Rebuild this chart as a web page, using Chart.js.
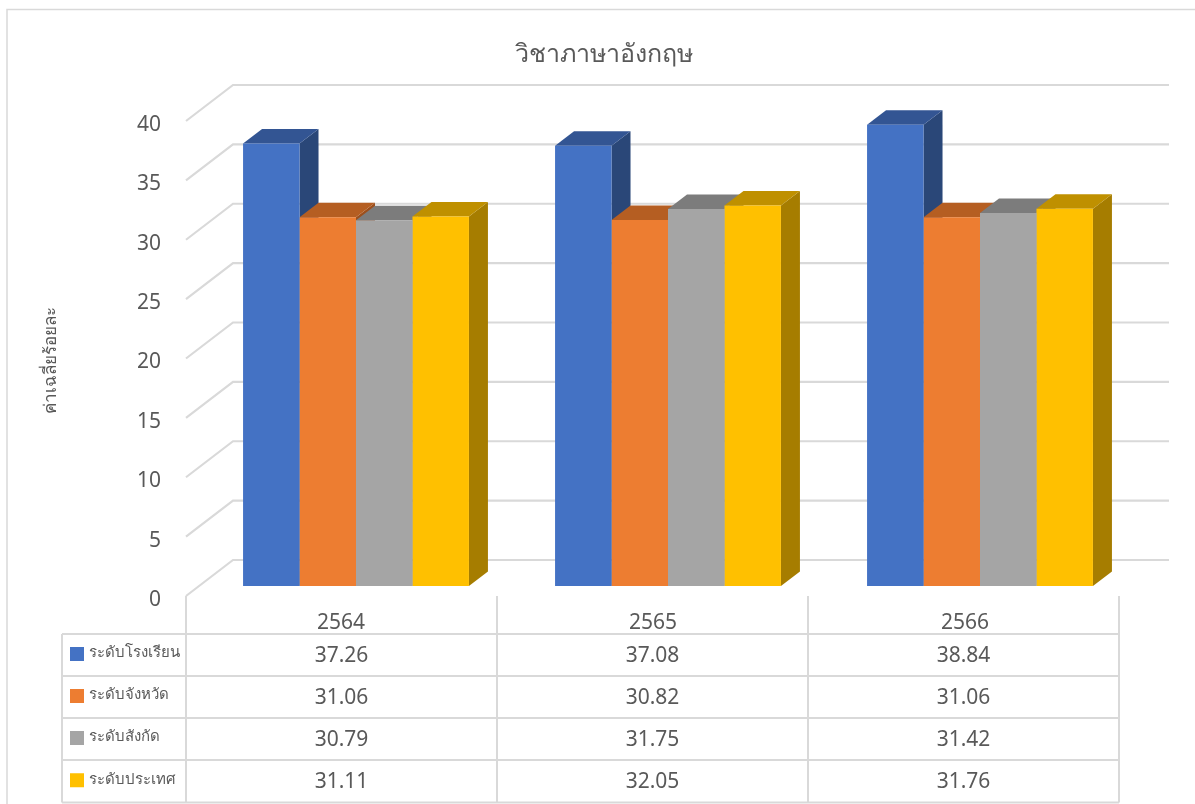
<!DOCTYPE html>
<html>
<head>
<meta charset="utf-8">
<title>วิชาภาษาอังกฤษ</title>
<script src="https://cdn.jsdelivr.net/npm/chart.js@4"></script>
<style>
  html, body { margin: 0; padding: 0; background: #fff; }
  #wrap { width: 1195px; height: 804px; position: relative; }
</style>
</head>
<body>
<div id="wrap"><canvas id="englishChart" width="1195" height="804"></canvas></div>
<script>
// ข้อมูล
const titleText = "วิชาภาษาอังกฤษ";
const yTitleText = "ค่าเฉลี่ยร้อยละ";
const years = ["2564", "2565", "2566"];
const seriesNames = ["ระดับโรงเรียน", "ระดับจังหวัด", "ระดับสังกัด", "ระดับประเทศ"];
const schoolValues = [37.26, 37.08, 38.84];
const provinceValues = [31.06, 30.82, 31.06];
const districtValues = [30.79, 31.75, 31.42];
const countryValues = [31.11, 32.05, 31.76];
const allValues = [schoolValues, provinceValues, districtValues, countryValues];

// สี: หน้า, ด้านบน, ด้านข้าง
const frontColors = ["#4472C4", "#ED7D31", "#A5A5A5", "#FFC000"];
const topColors = ["#335593", "#B55E22", "#7C7C7C", "#BF9000"];
const sideColors = ["#2A4778", "#9C4F1D", "#6B6B6B", "#A67D00"];

const gridColor = "#D9D9D9";
const textColor = "#595959";
const fontName = "'Noto Sans', 'Open Sans', sans-serif";

// ความลึกของแท่ง 3 มิติ
const barDepthX = 19;
const barDepthY = 14.5;

// ตำแหน่งตาราง
const tableLeft = 62;
const tableCols = [186, 497, 808, 1119];
const tableRows = [634, 676, 718, 760, 802.5];

function poly(ctx, pts, color) {
  ctx.fillStyle = color;
  ctx.beginPath();
  pts.forEach((p, i) => i ? ctx.lineTo(p[0], p[1]) : ctx.moveTo(p[0], p[1]));
  ctx.closePath();
  ctx.fill();
}

function line(ctx, pts, width) {
  ctx.strokeStyle = gridColor;
  ctx.lineWidth = width;
  ctx.beginPath();
  pts.forEach((p, i) => i ? ctx.lineTo(p[0], p[1]) : ctx.moveTo(p[0], p[1]));
  ctx.stroke();
}

const wallPlugin = {
  id: "wall",
  // กรอบ ผนัง และเส้นกริด
  beforeDraw(chart) {
    const ctx = chart.ctx;
    ctx.save();
    line(ctx, [[7, 804], [7, 9.5], [1195, 9.5]], 1.5);
    const area = chart.chartArea;
    chart.scales.y.ticks.forEach((t) => {
      const p = chart.scales.y.getPixelForValue(t.value);
      line(ctx, [[area.left - 14, p + 10], [area.left + 33, p - 26], [area.right + 33, p - 26]], 2.2);
    });
    ctx.restore();
  },
  // ด้านข้างและด้านบนของแท่ง วาดจากซ้ายไปขวา ก่อนด้านหน้า
  beforeDatasetsDraw(chart) {
    const ctx = chart.ctx;
    const base = chart.scales.y.getPixelForValue(0);
    ctx.save();
    seriesNames.forEach((name, i) => {
      chart.getDatasetMeta(i).data.forEach((bar) => {
        const l = bar.x - bar.width / 2;
        const r = bar.x + bar.width / 2;
        const y = bar.y;
        poly(ctx, [[r, y], [r + barDepthX, y - barDepthY], [r + barDepthX, base - barDepthY], [r, base]], sideColors[i]);
        poly(ctx, [[l, y], [l + barDepthX, y - barDepthY], [r + barDepthX, y - barDepthY], [r, y]], topColors[i]);
      });
    });
    ctx.restore();
  },
  // ชื่อกราฟและตารางข้อมูล
  afterDraw(chart) {
    const ctx = chart.ctx;
    ctx.save();
    ctx.textBaseline = "middle";
    ctx.textAlign = "center";
    ctx.fillStyle = textColor;
    ctx.font = "25px " + fontName;
    ctx.fillText(titleText, 603.5, 55);

    const top = tableRows[0];
    const bottom = tableRows[tableRows.length - 1];
    tableRows.forEach((y) => line(ctx, [[tableLeft, y], [tableCols[3], y]], 2));
    line(ctx, [[tableLeft, top], [tableLeft, bottom]], 2);
    tableCols.forEach((x) => line(ctx, [[x, 596], [x, bottom]], 2));

    seriesNames.forEach((name, r) => {
      const mid = (tableRows[r] + tableRows[r + 1]) / 2;
      ctx.fillStyle = frontColors[r];
      ctx.fillRect(70, mid - 8, 14, 14);
      ctx.fillStyle = textColor;
      ctx.textAlign = "left";
      ctx.font = "15px " + fontName;
      ctx.fillText(name, 89, mid - 2);
      ctx.textAlign = "center";
      ctx.font = "21px " + fontName;
      allValues[r].forEach((v, c) => {
        ctx.fillText(v.toFixed(2), (tableCols[c] + tableCols[c + 1]) / 2, mid + 1);
      });
    });

    // ชื่อแกนตั้ง
    ctx.translate(51, 360);
    ctx.rotate(-Math.PI / 2);
    ctx.font = "17px " + fontName;
    ctx.fillStyle = textColor;
    ctx.fillText(yTitleText, 0, 0);
    ctx.restore();
  }
};

const ctx = document.getElementById("englishChart").getContext("2d");
new Chart(ctx, {
  type: "bar",
  data: {
    labels: years,
    datasets: seriesNames.map((name, i) => ({
      label: name,
      data: allValues[i],
      backgroundColor: frontColors[i],
      borderWidth: 0,
      barPercentage: 1,
      categoryPercentage: 0.724
    }))
  },
  options: {
    responsive: false,
    animation: false,
    layout: { padding: { right: 59, top: 111, left: 0, bottom: 0 } },
    plugins: {
      legend: { display: false },
      tooltip: { enabled: false }
    },
    scales: {
      x: {
        grid: { display: false },
        border: { display: false },
        ticks: {
          color: textColor,
          font: { family: fontName, size: 21 },
          labelOffset: -15,
          padding: 16,
          maxRotation: 0
        },
        afterFit(scale) { scale.height = 218; }
      },
      y: {
        min: 0,
        max: 40,
        grid: { display: false },
        border: { display: false },
        ticks: {
          stepSize: 5,
          color: textColor,
          font: { family: fontName, size: 21 },
          labelOffset: 14,
          padding: 31
        },
        afterFit(scale) { scale.width = 200; }
      }
    }
  },
  plugins: [wallPlugin]
});
</script>
</body>
</html>
